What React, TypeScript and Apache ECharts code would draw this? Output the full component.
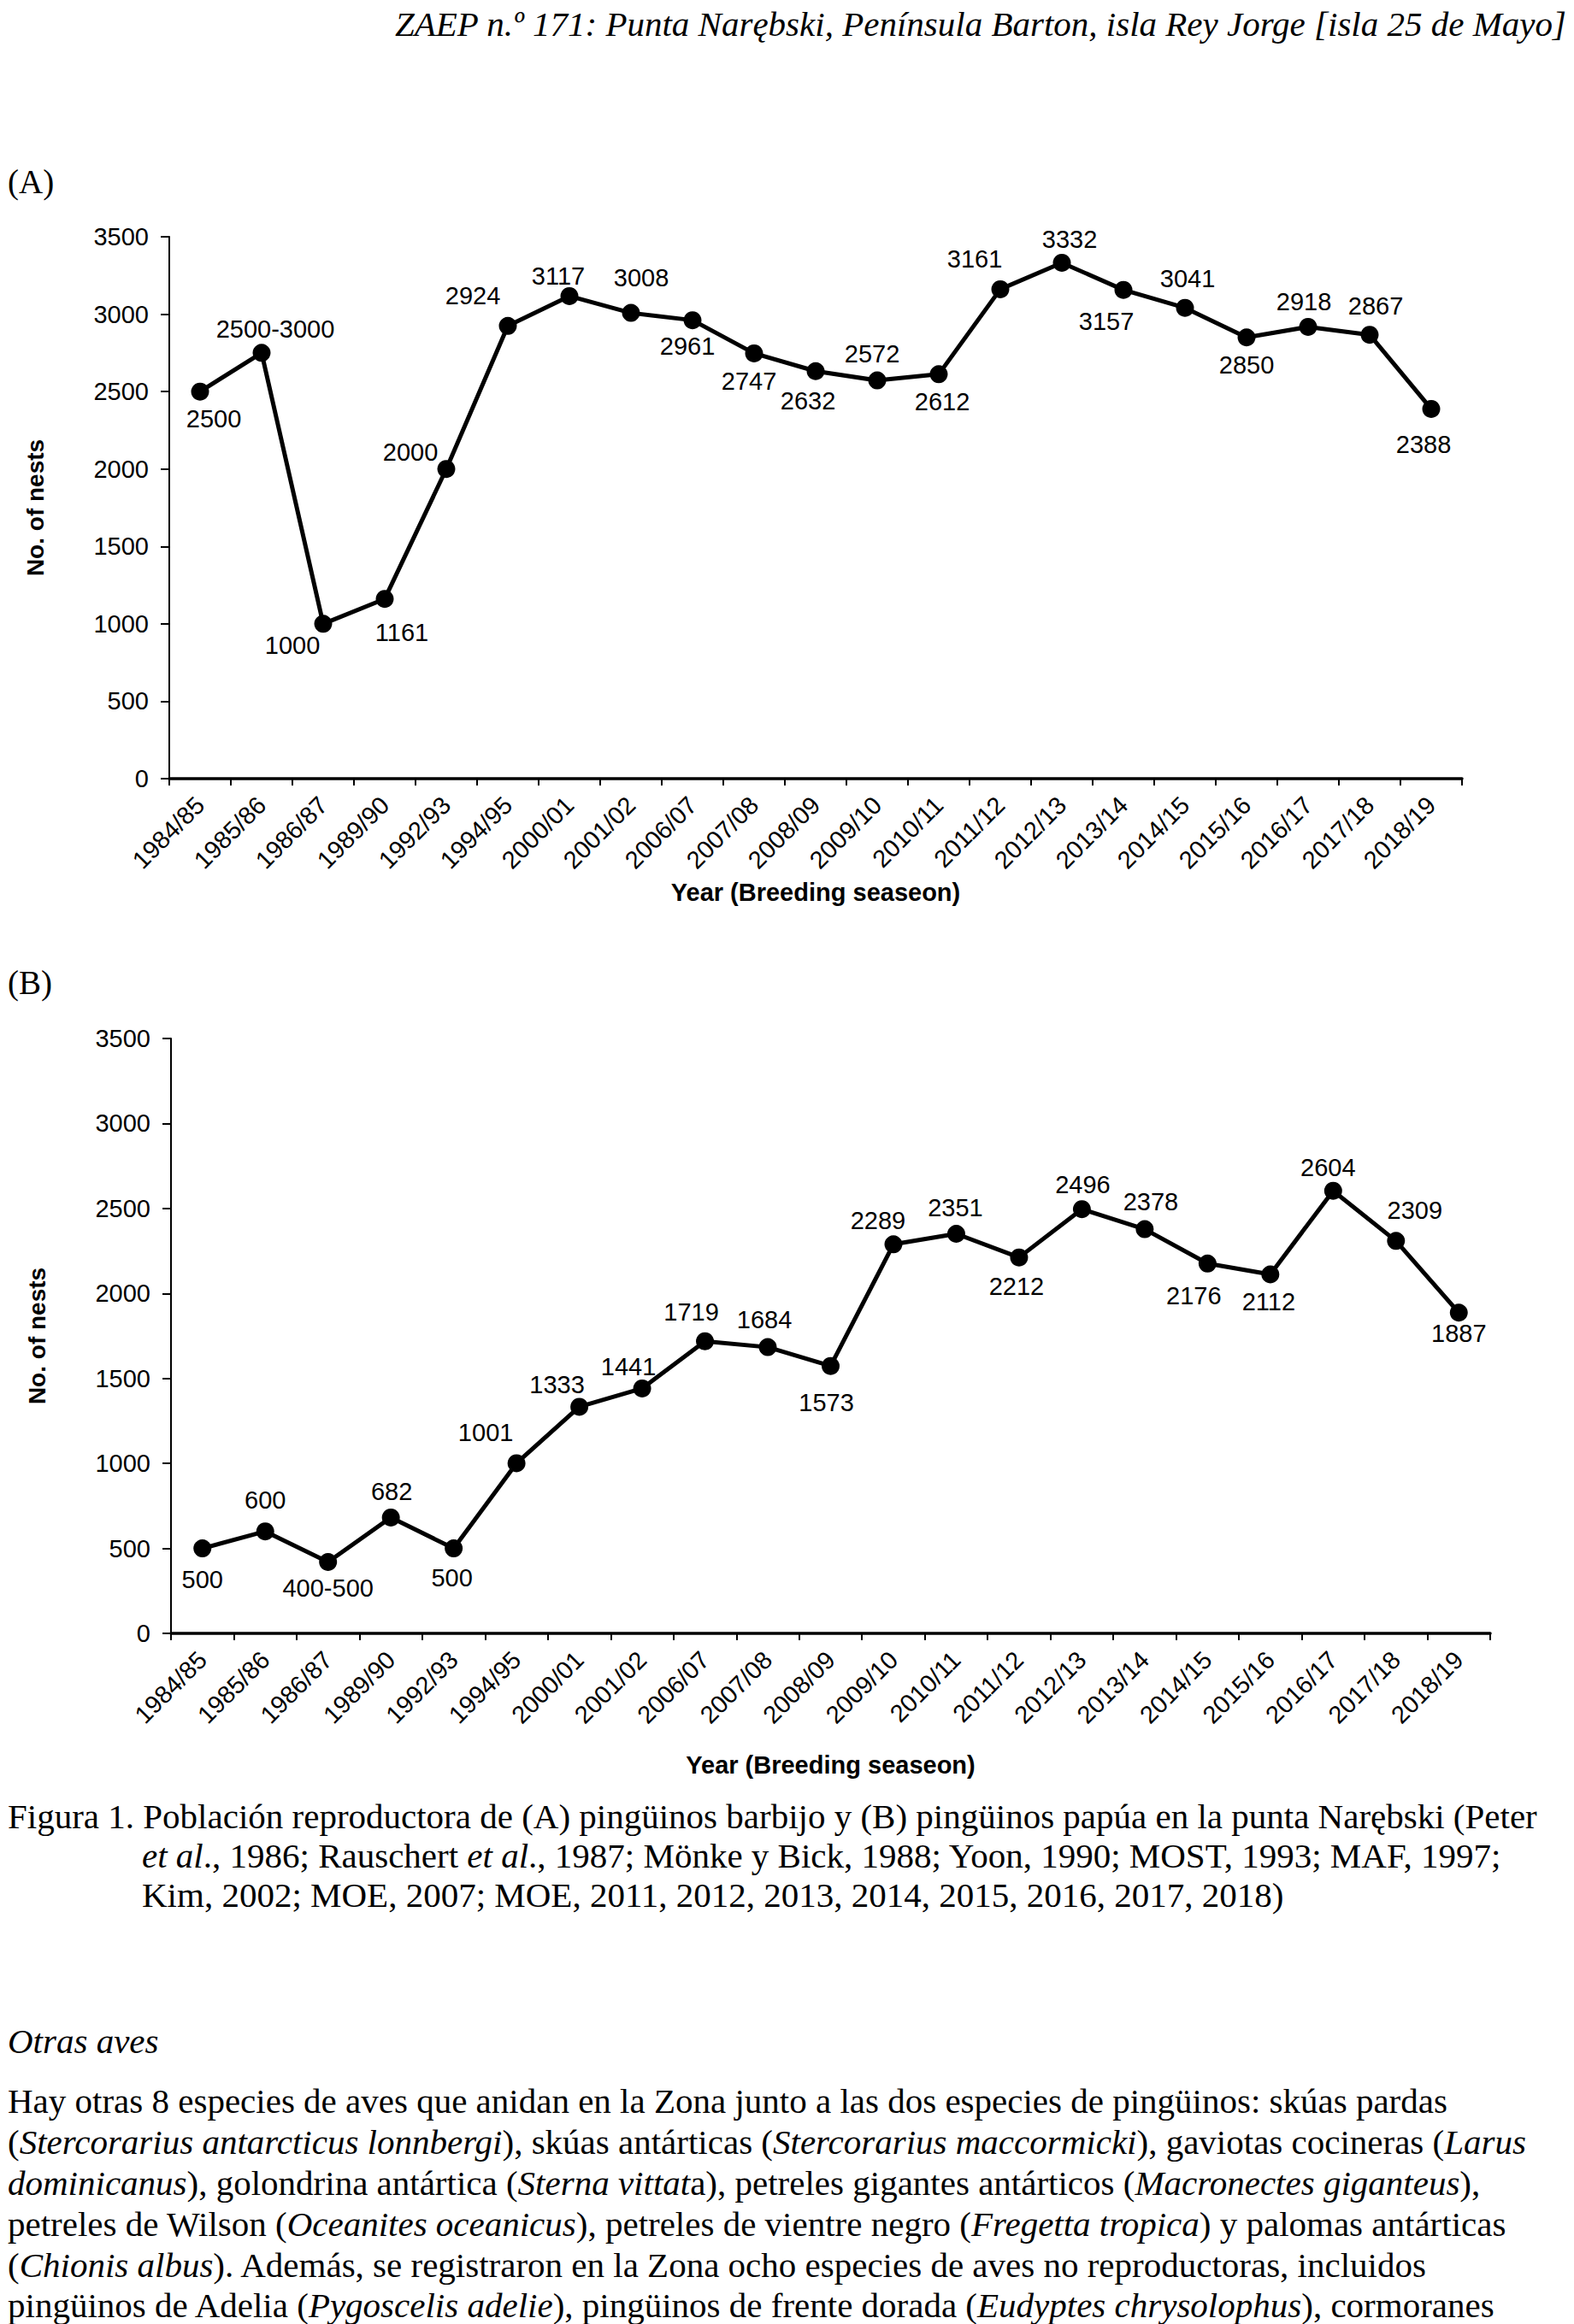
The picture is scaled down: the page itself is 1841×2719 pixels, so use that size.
import React, { useEffect, useRef } from "react";
import * as echarts from "echarts";

// ---------- data ----------
const CATEGORIES = [
  "1984/85", "1985/86", "1986/87", "1989/90", "1992/93", "1994/95", "2000/01",
  "2001/02", "2006/07", "2007/08", "2008/09", "2009/10", "2010/11", "2011/12",
  "2012/13", "2013/14", "2014/15", "2015/16", "2016/17", "2017/18", "2018/19",
];

// (A) chinstrap penguins
const VALUES_A = [
  2500, 2750, 1000, 1161, 2000, 2924, 3117, 3008, 2961, 2747, 2632, 2572, 2612,
  3161, 3332, 3157, 3041, 2850, 2918, 2867, 2388,
];
const LABELS_A = [
  "2500", "2500-3000", "1000", "1161", "2000", "2924", "3117", "3008", "2961",
  "2747", "2632", "2572", "2612", "3161", "3332", "3157", "3041", "2850",
  "2918", "2867", "2388",
];

// (B) gentoo penguins
const VALUES_B = [
  500, 600, 420, 682, 500, 1001, 1333, 1441, 1719, 1684, 1573, 2289, 2351, 2212,
  2496, 2378, 2176, 2112, 2604, 2309, 1887,
];
const LABELS_B = [
  "500", "600", "400-500", "682", "500", "1001", "1333", "1441", "1719", "1684",
  "1573", "2289", "2351", "2212", "2496", "2378", "2176", "2112", "2604",
  "2309", "1887",
];

const Y_MIN = 0;
const Y_MAX = 3500;
const Y_STEP = 500;

// ---------- layout (label offsets from each point, px) ----------
const LABEL_OFFSETS_A = [
  [16, 32], [16, -28], [-36, 25], [20, 39], [-42, -20], [-41, -35], [-13, -23],
  [12, -41], [-6, 30], [-6, 33], [-9, 35], [-6, -31], [4, 32], [-30, -35],
  [9, -27], [-20, 37], [3, -34], [0, 32], [-5, -29], [7, -34], [-9, 42],
];
const LABEL_OFFSETS_B = [
  [0, 36], [0, -37], [0, 31], [1, -30], [-2, 34], [-36, -36], [-26, -26],
  [-16, -25], [-16, -34], [-4, -32], [-5, 43], [-18, -28], [-1, -30], [-3, 34],
  [1, -29], [7, -32], [-16, 38], [-2, 32], [-6, -27], [22, -36], [0, 24],
];

const SANS = "Liberation Sans, Arial, sans-serif";
const SERIF = "'Liberation Serif', 'Times New Roman', serif";

function makeSeries(values: number[], labels: string[], offsets: number[][], idx: number) {
  return {
    type: "line",
    xAxisIndex: idx,
    yAxisIndex: idx,
    data: values.map((v, i) => ({ value: v, label: { offset: offsets[i] } })),
    symbol: "circle",
    symbolSize: 21,
    lineStyle: { color: "#000", width: 5 },
    itemStyle: { color: "#000" },
    label: {
      show: true,
      position: "inside",
      color: "#000",
      fontFamily: SANS,
      fontSize: 29,
      formatter: (p: any) => labels[p.dataIndex],
    },
  };
}

function makeXAxis(idx: number, nameGap: number) {
  return {
    type: "category",
    gridIndex: idx,
    data: CATEGORIES,
    boundaryGap: true,
    name: "Year (Breeding seaseon)",
    nameLocation: "middle",
    nameGap,
    nameTextStyle: { color: "#000", fontFamily: SANS, fontSize: 29, fontWeight: "bold" },
    axisLine: { show: true, lineStyle: { color: "#000", width: 3.5 } },
    axisTick: { show: true, length: 8, lineStyle: { color: "#000", width: 2 } },
    axisLabel: {
      interval: 0,
      rotate: 45,
      margin: 26,
      color: "#000",
      fontFamily: SANS,
      fontSize: 29,
    },
    splitLine: { show: false },
  };
}

function makeYAxis(idx: number) {
  return {
    type: "value",
    gridIndex: idx,
    min: Y_MIN,
    max: Y_MAX,
    interval: Y_STEP,
    name: "No. of nests",
    nameLocation: "middle",
    nameRotate: 90,
    nameGap: 143,
    nameTextStyle: {
      color: "#000",
      fontFamily: SANS,
      fontSize: 28,
      fontWeight: "bold",
    },
    axisLine: { show: true, lineStyle: { color: "#000", width: 2 } },
    axisTick: { show: true, length: 10, lineStyle: { color: "#000", width: 2 } },
    axisLabel: {
      color: "#000",
      fontFamily: SANS,
      fontSize: 29,
      margin: 24,
      formatter: (v: number) => String(v),
    },
    splitLine: { show: false },
  };
}

const lineStyle = (top: number): React.CSSProperties => ({
  position: "absolute",
  left: 9,
  top,
  whiteSpace: "nowrap",
  fontFamily: SERIF,
  fontSize: 41,
  lineHeight: "46px",
  color: "#000",
});

export default function App() {
  const ref = useRef<HTMLDivElement>(null);

  useEffect(() => {
    if (!ref.current) return;
    const chart = echarts.init(ref.current, undefined, { renderer: "svg" });
    chart.setOption({
      animation: false,
      backgroundColor: "#fff",
      grid: [
        { left: 198, top: 277, width: 1512, height: 634 },
        { left: 200, top: 1215, width: 1543, height: 696 },
      ],
      xAxis: [makeXAxis(0, 118), makeXAxis(1, 139)],
      yAxis: [makeYAxis(0), makeYAxis(1)],
      series: [
        makeSeries(VALUES_A, LABELS_A, LABEL_OFFSETS_A, 0),
        makeSeries(VALUES_B, LABELS_B, LABEL_OFFSETS_B, 1),
      ],
    });
    return () => chart.dispose();
  }, []);

  return (
    <div
      style={{
        position: "absolute",
        left: 0,
        top: 0,
        width: 1841,
        height: 2719,
        background: "#fff",
        overflow: "hidden",
      }}
    >
      <div ref={ref} style={{ position: "absolute", left: 0, top: 0, width: 1841, height: 2100 }} />
      <div
        style={{
          position: "absolute",
          right: 9,
          top: 5,
          whiteSpace: "nowrap",
          fontFamily: SERIF,
          fontStyle: "italic",
          fontSize: 41,
          lineHeight: "46px",
        }}
      >
        ZAEP n.º 171: Punta Narębski, Península Barton, isla Rey Jorge [isla 25 de Mayo]
      </div>
      <div style={{ ...lineStyle(190), fontSize: 39 }}>(A)</div>
      <div style={{ ...lineStyle(1127), fontSize: 39 }}>(B)</div>

      <div style={lineStyle(2102)}>
        Figura 1. Población reproductora de (A) pingüinos barbijo y (B) pingüinos papúa en la punta Narębski (Peter
      </div>
      <div style={{ ...lineStyle(2148), left: 166 }}>
        <i>et al</i>., 1986; Rauschert <i>et al</i>., 1987; Mönke y Bick, 1988; Yoon, 1990; MOST, 1993; MAF, 1997;
      </div>
      <div style={{ ...lineStyle(2194), left: 166 }}>
        Kim, 2002; MOE, 2007; MOE, 2011, 2012, 2013, 2014, 2015, 2016, 2017, 2018)
      </div>

      <div style={{ ...lineStyle(2365), fontStyle: "italic" }}>Otras aves</div>

      <div style={lineStyle(2435)}>
        Hay otras 8 especies de aves que anidan en la Zona junto a las dos especies de pingüinos: skúas pardas
      </div>
      <div style={lineStyle(2483)}>
        (<i>Stercorarius antarcticus lonnbergi</i>), skúas antárticas (<i>Stercorarius maccormicki</i>), gaviotas cocineras (<i>Larus</i>
      </div>
      <div style={lineStyle(2531)}>
        <i>dominicanus</i>), golondrina antártica (<i>Sterna vittat</i>a), petreles gigantes antárticos (<i>Macronectes giganteus</i>),
      </div>
      <div style={lineStyle(2579)}>
        petreles de Wilson (<i>Oceanites oceanicus</i>), petreles de vientre negro (<i>Fregetta tropica</i>) y palomas antárticas
      </div>
      <div style={lineStyle(2627)}>
        (<i>Chionis albus</i>). Además, se registraron en la Zona ocho especies de aves no reproductoras, incluidos
      </div>
      <div style={lineStyle(2674)}>
        pingüinos de Adelia (<i>Pygoscelis adelie</i>), pingüinos de frente dorada (<i>Eudyptes chrysolophus</i>), cormoranes
      </div>
    </div>
  );
}
